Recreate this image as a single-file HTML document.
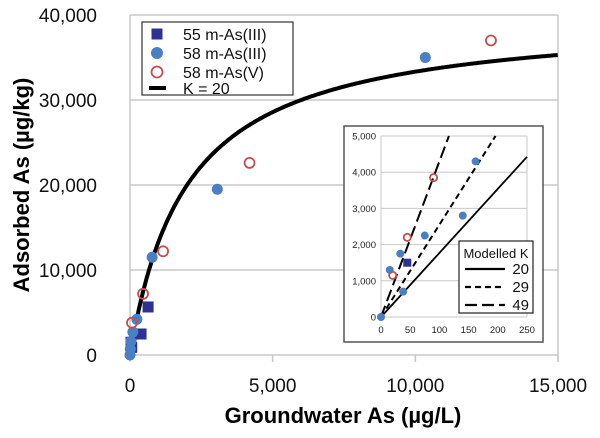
<!DOCTYPE html>
<html><head><meta charset="utf-8"><style>
body{margin:0;background:#fff}
svg{display:block;font-family:"Liberation Sans",sans-serif}
</style></head><body>
<svg id="chart" width="600" height="438" viewBox="0 0 600 438" xmlns="http://www.w3.org/2000/svg">
<g id="grid"></g><g id="curve"></g><g id="marks"></g><g id="inset"></g><g id="labels"></g>
</svg>
<script>
const xTicks=[0,5000,10000,15000];
const yTicks=[0,10000,20000,30000,40000];
const sq55C=[634,387,35,60];
const sq55Q=[5650,2470,1500,900];
const c58IIIC=[10350,3060,775,240,100,30,10,0];
const c58IIIQ=[35000,19500,11500,4200,2700,1600,700,0];
const c58VC=[12650,4190,1160,458,70];
const c58VQ=[37000,22600,12200,7200,3800];
const qMax=40000, kHalf=2000;
const insetXTicks=[0,50,100,150,200,250];
const insetYTicks=[0,1000,2000,3000,4000,5000];
const inSqC=[45];const inSqQ=[1500];
const inCIIIC=[0,15,33,38,75,140,162];
const inCIIIQ=[0,1300,1750,700,2250,2800,4300];
const inVC=[20,45,90];const inVQ=[1150,2200,3850];
const modelK=[20,29,49];
const modelSlope=[17.7,25.5,43];
const dashes=['none','6,4','12,5'];

const NS='http://www.w3.org/2000/svg';
function mk(parent,tag,attrs,txt){const e=document.createElementNS(NS,tag);for(const k in attrs)e.setAttribute(k,attrs[k]);if(txt!==undefined)e.textContent=txt;document.getElementById(parent).appendChild(e);return e;}
const X=v=>130+v*(558-130)/15000, Y=v=>355-v*340/40000;
const fmt=v=>v.toLocaleString('en-US');

yTicks.forEach(t=>{if(t>0){let l=mk('grid','line',{x1:130,x2:558,y1:Y(t),y2:Y(t),stroke:'#c8c8c8','stroke-width':1.5});
}
let tx=mk('labels','text',{x:97,y:Y(t)+7,'font-size':19,'text-anchor':'end',fill:'#111'},fmt(t));
});
mk('grid','line',{x1:130,x2:130,y1:15,y2:355,stroke:'#c8c8c8','stroke-width':1.5});
mk('grid','line',{x1:558,x2:558,y1:15,y2:362,stroke:'#c8c8c8','stroke-width':1.5});
mk('grid','line',{x1:130,x2:558,y1:355,y2:355,stroke:'#c8c8c8','stroke-width':1.5});
xTicks.forEach(t=>{mk('grid','line',{x1:X(t),x2:X(t),y1:355,y2:362,stroke:'#c8c8c8','stroke-width':1.5});
let tx=mk('labels','text',{x:X(t),y:392,'font-size':19,'text-anchor':'middle',fill:'#111'},fmt(t));
});

let d='';for(let c=230;c<=15000;c+=40){const q=qMax*c/(kHalf+c);d+=(d?'L':'M')+X(c).toFixed(1)+','+Y(q).toFixed(1);}
const cv=mk('curve','path',{d:d,fill:'none',stroke:'#000','stroke-width':4});


function square(g,x,y,s){const e=mk(g,'rect',{x:x-s/2,y:y-s/2,width:s,height:s,fill:'#2e3192'});}
function dot(g,x,y,r){const e=mk(g,'circle',{cx:x,cy:y,r:r,fill:'#4a7fc4'});}
function ring(g,x,y,r){const e=mk(g,'circle',{cx:x,cy:y,r:r,fill:'none',stroke:'#c0504d','stroke-width':1.8});}
sq55C.forEach((c,i)=>square('marks',X(c),Y(sq55Q[i]),11));
c58IIIC.forEach((c,i)=>dot('marks',X(c),Y(c58IIIQ[i]),5.5));
c58VC.forEach((c,i)=>ring('marks',X(c),Y(c58VQ[i]),5));

const lg=mk('labels','rect',{x:142,y:22,width:151,height:73,fill:'#fff',stroke:'#333','stroke-width':1.2});

const lgN=['55 m-As(III)','58 m-As(III)','58 m-As(V)','K = 20'];const lgY=[34,53,72,88];
square('labels',157,lgY[0],11);dot('labels',157,lgY[1],6);ring('labels',157,lgY[2],5.5);
mk('labels','line',{x1:149,x2:166,y1:lgY[3],y2:lgY[3],stroke:'#000','stroke-width':4});
lgN.forEach((n,i)=>{const t=mk('labels','text',{x:183,y:lgY[i]+6,'font-size':16,fill:'#111'},n);});

let t1=mk('labels','text',{x:343,y:423,'font-size':22,'font-weight':'bold','text-anchor':'middle',fill:'#000'},'Groundwater As (µg/L)');

let t2=mk('labels','text',{x:0,y:0,'font-size':22,'font-weight':'bold','text-anchor':'middle',fill:'#000',transform:'translate(29,185) rotate(-90)'},'Adsorbed As (µg/kg)');


const IX=v=>381+v*146/250, IY=v=>317-v*181/5000;
const ib=mk('inset','rect',{x:344,y:126,width:199,height:216,fill:'#fff',stroke:'#555','stroke-width':1.5});

insetYTicks.forEach(t=>{mk('inset','line',{x1:381,x2:527,y1:IY(t),y2:IY(t),stroke:'#c8c8c8','stroke-width':1});
const e=mk('inset','text',{x:376,y:IY(t)+3.5,'font-size':9.5,'text-anchor':'end',fill:'#222'},fmt(t));});
mk('inset','line',{x1:381,x2:381,y1:136,y2:317,stroke:'#c8c8c8','stroke-width':1});
mk('inset','line',{x1:527,x2:527,y1:136,y2:317,stroke:'#c8c8c8','stroke-width':1});
insetXTicks.forEach(t=>{const e=mk('inset','text',{x:IX(t),y:333,'font-size':9.5,'text-anchor':'middle',fill:'#222'},t);});
modelSlope.forEach((s,i)=>{const xe=Math.min(250,5000/s);const e=mk('inset','line',{x1:IX(0),y1:IY(0),x2:IX(xe),y2:IY(xe*s),stroke:'#000','stroke-width':i==0?1.8:2,'stroke-dasharray':dashes[i]});
});
inSqC.forEach((c,i)=>square('inset',IX(c),IY(inSqQ[i]),8));
inCIIIC.forEach((c,i)=>dot('inset',IX(c),IY(inCIIIQ[i]),4));
inVC.forEach((c,i)=>ring('inset',IX(c),IY(inVQ[i]),3.6));
const il=mk('inset','rect',{x:459,y:241,width:74,height:72,fill:'#fff',stroke:'#222','stroke-width':1.2});

mk('inset','text',{x:496,y:258,'font-size':13,'text-anchor':'middle',fill:'#111'},'Modelled K');
modelK.forEach((k,i)=>{const y=269+i*18;mk('inset','line',{x1:465,x2:505,y1:y,y2:y,stroke:'#000','stroke-width':2.2,'stroke-dasharray':dashes[i]});
const e=mk('inset','text',{x:529,y:y+5,'font-size':15,'text-anchor':'end',fill:'#111'},k);});
</script>
</body></html>
